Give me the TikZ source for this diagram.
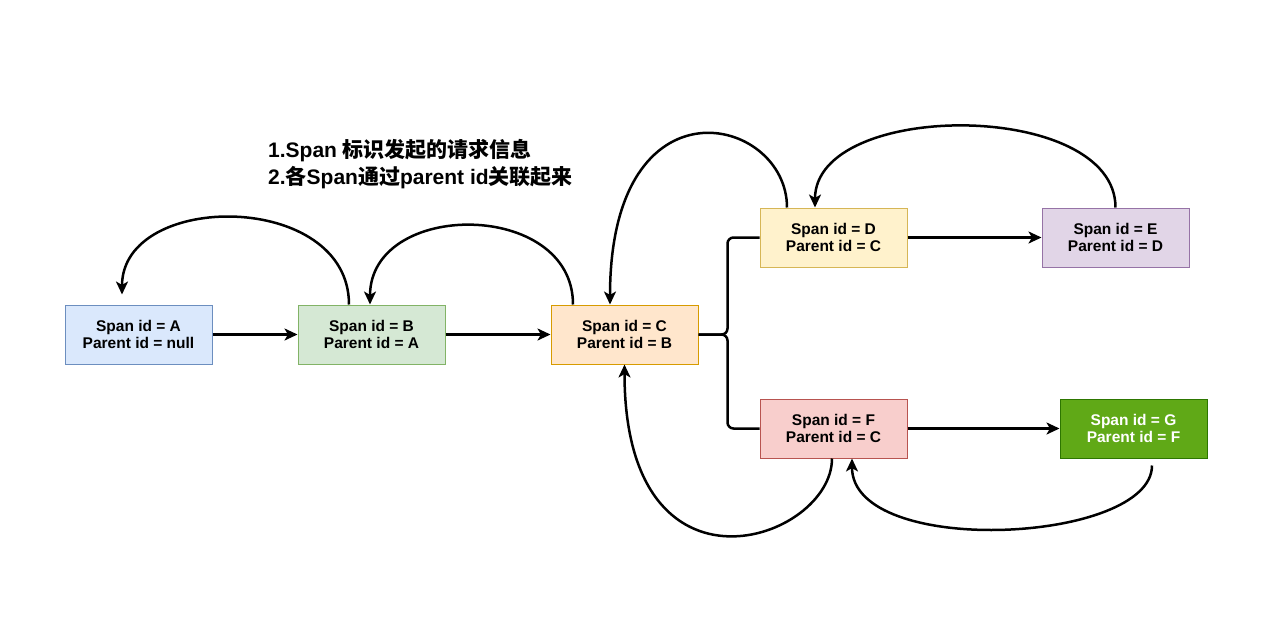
\documentclass[tikz,border=0pt]{standalone}
\usepackage{fontspec}
\setmainfont{Liberation Sans}
\newfontfamily\cjk{Noto Sans CJK SC}
\usetikzlibrary{arrows.meta}
\definecolor{fillA}{HTML}{DAE8FC}\definecolor{lineA}{HTML}{6C8EBF}
\definecolor{fillB}{HTML}{D5E8D4}\definecolor{lineB}{HTML}{82B366}
\definecolor{fillC}{HTML}{FFE6CC}\definecolor{lineC}{HTML}{D79B00}
\definecolor{fillD}{HTML}{FFF2CC}\definecolor{lineD}{HTML}{D6B656}
\definecolor{fillE}{HTML}{E1D5E7}\definecolor{lineE}{HTML}{9673A6}
\definecolor{fillF}{HTML}{F8CECC}\definecolor{lineF}{HTML}{B85450}
\definecolor{fillG}{HTML}{60A917}\definecolor{lineG}{HTML}{2D7600}
\tikzset{
  span/.style={draw, line width=1pt, minimum width=147pt, minimum height=59pt,
    inner sep=0pt, align=center,
    font=\fontsize{15.5}{17.5}\selectfont\bfseries},
  link/.style={line width=2.5pt, -{Stealth[length=13pt,width=12pt,inset=3.5pt]}},
}
\begin{document}
\begin{tikzpicture}[x=1pt,y=-1pt]
  \useasboundingbox[fill=white] (0,0) rectangle (1262,638);

  % Spans
  \node[span, fill=fillA, draw=lineA] (A) at (138.5,334.5) {Span id = A\\Parent id = null};
  \node[span, fill=fillB, draw=lineB] (B) at (371.5,334.5) {Span id = B\\Parent id = A};
  \node[span, fill=fillC, draw=lineC] (C) at (624.5,334.5) {Span id = C\\Parent id = B};
  \node[span, fill=fillD, draw=lineD] (D) at (833.5,237.5) {Span id = D\\Parent id = C};
  \node[span, fill=fillE, draw=lineE] (E) at (1115.5,237.5) {Span id = E\\Parent id = D};
  \node[span, fill=fillF, draw=lineF] (F) at (833.5,428.5) {Span id = F\\Parent id = C};
  \node[span, fill=fillG, draw=lineG, text=white] (G) at (1133.5,428.5) {Span id = G\\Parent id = F};

  % Notiz
  \node[anchor=north west, align=left, inner sep=0pt,
        font=\fontsize{21}{27}\selectfont\bfseries] (note) at (268,139)
    {1.Span {\cjk 标识发起的请求信息}\\2.{\cjk 各}Span{\cjk 通过}parent id{\cjk 关联起来}};

  % Aufrufe
  \draw[link] (A) -- (B);
  \draw[link] (B) -- (C);
  \draw[link] (D) -- (E);
  \draw[link] (F) -- (G);
  \coordinate (fork) at ([xshift=29pt]C.east);
  \draw[line width=2.5pt, rounded corners=6pt] (C.east) -- (fork) |- (D.west);
  \draw[line width=2.5pt, rounded corners=6pt] (C.east) -- (fork) |- (F.west);

  % Rueckgabe
  \draw[link] ([xshift=-22.5pt]B.north) .. controls +(0,-114) and +(0,-104) .. ([xshift=-16.5pt,yshift=10pt]A.north);
  \draw[link] ([xshift=-51.5pt]C.north) .. controls +(0,-105) and +(0,-105) .. ([xshift=-1.5pt]B.north);
  \draw[link] ([xshift=-46.5pt]D.north) .. controls +(0,-92) and +(0,-232) .. ([xshift=-14.5pt]C.north);
  \draw[link] (E.north) .. controls +(0,-108) and +(0,-108) .. ([xshift=-18.5pt]D.north);
  \draw[link] ([xshift=-1.5pt]F.south) .. controls +(0,82) and +(0,248) .. (C.south);
  \draw[link] ([xshift=18.5pt,yshift=-7pt]G.south) .. controls +(0,78) and +(0,100) .. ([xshift=18.5pt]F.south);
\end{tikzpicture}
\end{document}
